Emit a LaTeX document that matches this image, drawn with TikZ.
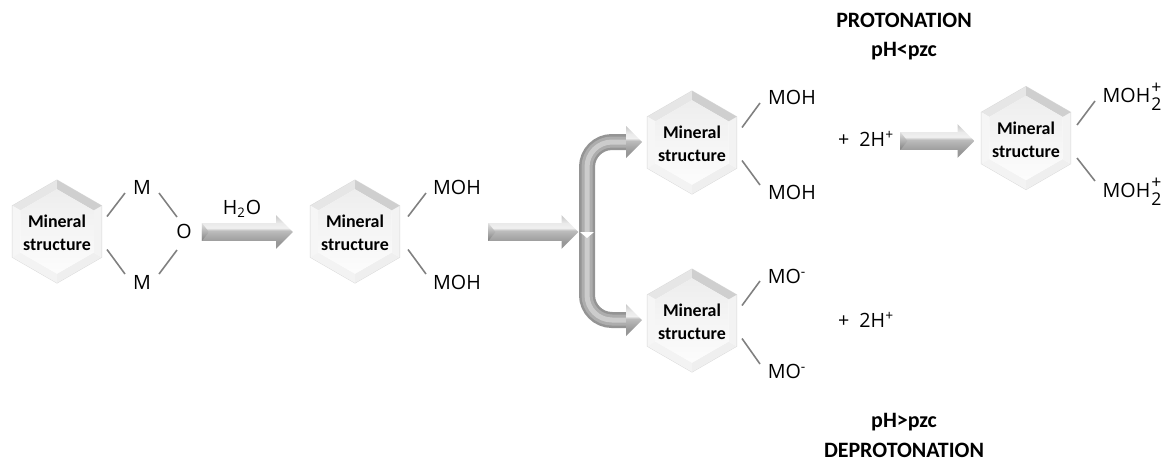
\documentclass[tikz,border=0pt]{standalone}
\usepackage{fontspec}
\setmainfont{Open Sans}
\newfontfamily\calib{Carlito}
\usetikzlibrary{calc,shapes.geometric,shapes.arrows}

\definecolor{bondC}{HTML}{808080}
\definecolor{faceA}{HTML}{CFCFCF}
\definecolor{faceB}{HTML}{E6E6E6}
\definecolor{faceC}{HTML}{F6F6F6}
\definecolor{faceD}{HTML}{F3F3F3}
\definecolor{faceE}{HTML}{EFEFEF}
\definecolor{faceF}{HTML}{E4E4E4}

\pgfdeclareverticalshading{barshade}{100bp}{
  color(0bp)=(black!42); color(25bp)=(black!42); color(35bp)=(black!40);
  color(52bp)=(black!26); color(56bp)=(black!6); color(63bp)=(black!8);
  color(75bp)=(black!22); color(100bp)=(black!22)}

\tikzset{
  hexa/.style={regular polygon,regular polygon sides=6,shape border rotate=30,
    minimum size=2.06cm,inner sep=0pt,outer sep=0pt},
  hexlabel/.style={font=\calib\bfseries\fontsize{10.2}{13}\selectfont,align=center,inner sep=0pt},
  chem/.style={font=\fontsize{11.2}{12}\selectfont,inner sep=0pt},
  title/.style={font=\calib\bfseries\fontsize{12.5}{13}\selectfont,inner sep=0pt},
  bond/.style={draw=bondC,line width=0.9pt},
  bar/.style={single arrow,single arrow head extend=0.16cm,minimum width=0.66cm,
    inner xsep=0pt,inner ysep=0.17cm,outer sep=0pt,shading=barshade},
  tube/.style={rounded corners=0.5cm,line width=0.32cm,draw=black!42,
    postaction={draw=black!32,line width=0.22cm},
    postaction={draw=black!20,line width=0.1cm}},
  head/.style={shading=barshade}
}

\newcommand{\mineral}[3]{
  \node[hexa,draw=black!15,line width=0.5pt] (#1) at (#2,#3) {};
  \foreach \i/\j/\c in {1/2/faceB,2/3/faceC,3/4/faceD,4/5/faceE,5/6/faceD,6/1/faceA}
    \fill[\c] (#1.corner \i) -- (#1.corner \j) -- ($(#1)!0.82!(#1.corner \j)$) -- ($(#1)!0.82!(#1.corner \i)$) -- cycle;
  \shade[top color=black!7,bottom color=black!1]
    ($(#1)!0.82!(#1.corner 1)$) -- ($(#1)!0.82!(#1.corner 2)$) -- ($(#1)!0.82!(#1.corner 3)$)
    -- ($(#1)!0.82!(#1.corner 4)$) -- ($(#1)!0.82!(#1.corner 5)$) -- ($(#1)!0.82!(#1.corner 6)$) -- cycle;
  \node[hexlabel] (#1text) at ($(#1)+(0,1.5)$) {Mineral\\structure};
}
\newcommand{\ionplus}{\hspace{0.05em}\raisebox{0.42em}{\rlap{\fontsize{10}{10}\selectfont +}}\raisebox{-0.42em}{\fontsize{10}{10}\selectfont 2}}
\newcommand{\bevel}[1]{
  \shade[top color=black!12,bottom color=black!50]
    (#1.after tail) -- (#1.before tail) -- ($(#1.tail)+(7,0)$) -- cycle;
}

\begin{document}
\begin{tikzpicture}[x=0.02cm,y=-0.02cm]
    \useasboundingbox (0,0) rectangle (1165,461);

    \mineral{hexA}{57}{231.5}
    \mineral{hexB}{355}{231.5}
    \mineral{hexC}{692}{142.5}
    \mineral{hexD}{692}{320.5}
    \mineral{hexE}{1026}{138}

    \node[chem] (mA) at (142,187) {M};
    \node[chem] (oA) at (184,231) {O};
    \node[chem] (mB) at (142,282) {M};
    \node[chem] (water) at (242,209) {H$_{\mbox{\fontsize{7.5}{8}\selectfont 2}}$O};

    \node[chem] (mohA) at (457,187) {MOH};
    \node[chem] (mohB) at (457,282) {MOH};
    \node[chem] (mohC) at (792,97) {MOH};
    \node[chem] (mohD) at (792,192) {MOH};
    \node[chem] (moA) at (787,276) {MO\textsuperscript{-}};
    \node[chem] (moB) at (787,371) {MO\textsuperscript{-}};
    \node[chem] (mohE) at (1132,97) {MOH\ionplus};
    \node[chem] (mohF) at (1132,192) {MOH\ionplus};
    \node[chem] (protons) at (866,139) {+\ \ 2H\textsuperscript{+}};
    \node[chem] (protonsB) at (866,320) {+\ \ 2H\textsuperscript{+}};

    \node[title] (prot) at (904,20) {PROTONATION};
    \node[title] (phlow) at (904,51) {pH<pzc};
    \node[title] (phhigh) at (904,422) {pH>pzc};
    \node[title] (deprot) at (904,450) {DEPROTONATION};

    \draw[bond] ($(hexA)+(50,-15)$) -- ($(mA)+(-17,6)$);
    \draw[bond] ($(hexA)+(50,18)$) -- ($(mB)+(-17,-8)$);
    \draw[bond] ($(mA)+(17,6)$) -- ($(oA)+(-7,-14)$);
    \draw[bond] ($(mB)+(17,-8)$) -- ($(oA)+(-7,19)$);
    \draw[bond] ($(hexB)+(53,-15)$) -- ($(mohA)+(-31,6)$);
    \draw[bond] ($(hexB)+(53,18)$) -- ($(mohB)+(-31,-8)$);
    \draw[bond] ($(hexC)+(50,-15)$) -- ($(mohC)+(-32,6)$);
    \draw[bond] ($(hexC)+(50,18)$) -- ($(mohD)+(-32,-7)$);
    \draw[bond] ($(hexD)+(50,-15)$) -- ($(moA)+(-27,5)$);
    \draw[bond] ($(hexD)+(50,18)$) -- ($(moB)+(-27,-7)$);
    \draw[bond] ($(hexE)+(51,-13)$) -- ($(mohE)+(-37,4)$);
    \draw[bond] ($(hexE)+(51,20)$) -- ($(mohF)+(-37,-11)$);

    \node[bar,minimum height=1.82cm] (barA) at (243,232) {};
    \bevel{barA}
    \node[bar,minimum height=1.8cm] (barB) at (529,232) {};
    \bevel{barB}
    \node[bar,minimum height=1.48cm] (barC) at (933,141) {};
    \bevel{barC}

    \coordinate (fork) at (587,232);
    \coordinate (forkUp) at (627,142);
    \coordinate (forkDown) at (627,320);
    \draw[tube] (fork) |- (forkUp);
    \draw[tube] (fork) |- (forkDown);
    \shade[head] ($(forkUp)+(-1,-16)$) -- ($(forkUp)+(15,0)$) -- ($(forkUp)+(-1,16)$) -- cycle;
    \shade[head] ($(forkDown)+(-1,-16)$) -- ($(forkDown)+(15,0)$) -- ($(forkDown)+(-1,16)$) -- cycle;
    \fill[white] ($(fork)+(-7,0)$) -- ($(fork)+(7,0)$) -- ($(fork)+(0,6)$) -- cycle;
\end{tikzpicture}
\end{document}
